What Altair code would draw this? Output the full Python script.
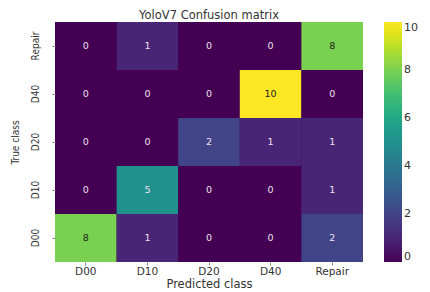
import altair as alt
import pandas as pd

pred_classes = ["D00", "D10", "D20", "D40", "Repair"]
true_classes = ["Repair", "D40", "D20", "D10", "D00"]
row_repair = [0, 1, 0, 0, 8]
row_d40 = [0, 0, 0, 10, 0]
row_d20 = [0, 0, 2, 1, 1]
row_d10 = [0, 5, 0, 0, 1]
row_d00 = [8, 1, 0, 0, 2]
rows = [row_repair, row_d40, row_d20, row_d10, row_d00]
cbar_ticks = [0, 2, 4, 6, 8, 10]

records = []
for t, r in zip(true_classes, rows):
    for p, v in zip(pred_classes, r):
        records.append({"true": t, "pred": p, "value": v})
df = pd.DataFrame(records)

vir = alt.Scale(scheme="viridis", domain=[0, 10])

base = alt.Chart(df).encode(
    x=alt.X("pred:N", sort=pred_classes, title="Predicted class",
            scale=alt.Scale(paddingInner=0, paddingOuter=0),
            axis=alt.Axis(labelAngle=0, labelFontSize=10.5, titleFontSize=11.5,
                          labelFont="DejaVu Sans", titleFont="DejaVu Sans",
                          tickSize=3, labelPadding=1, titlePadding=2,
                          domain=False, labelColor="#333", titleColor="#333",
                          titleFontWeight="normal")),
    y=alt.Y("true:N", sort=true_classes, title="True class",
            scale=alt.Scale(paddingInner=0, paddingOuter=0),
            axis=alt.Axis(labelAngle=-90, labelFontSize=10, titleFontSize=10,
                          labelFont="DejaVu Sans Condensed", titleFont="DejaVu Sans Condensed",
                          labelAlign="center", labelBaseline="bottom",
                          tickSize=3, labelPadding=12, titlePadding=10,
                          domain=False, labelColor="#333", titleColor="#333",
                          titleFontWeight="normal")),
)

heat = base.mark_rect(strokeWidth=0).encode(
    color=alt.Color("value:Q", scale=vir,
                    legend=alt.Legend(title=None, values=cbar_ticks,
                                      gradientLength=240, gradientThickness=18,
                                      offset=21, labelFontSize=11,
                                      labelFont="DejaVu Sans", labelColor="#333",
                                      direction="vertical",
                                      gradientStrokeWidth=0)),
)

text = base.mark_text(fontSize=9.5, font="DejaVu Sans").encode(
    text="value:Q",
    color=alt.condition("datum.value >= 7", alt.value("#222222"), alt.value("#f0e0f0")),
)

chart = (heat + text).properties(
    width=308, height=240,
    autosize=alt.AutoSizeParams(type="none"),
    padding={"left": 47, "top": 14, "right": 59, "bottom": 30},
    title=alt.TitleParams("YoloV7 Confusion matrix", fontSize=11.5,
                          font="DejaVu Sans", fontWeight="normal",
                          color="#333", offset=1),
).configure_view(stroke=None, fill="#440154").configure_axis(grid=False)

chart.save("out.html", embed_options={"renderer": "svg", "actions": False})
